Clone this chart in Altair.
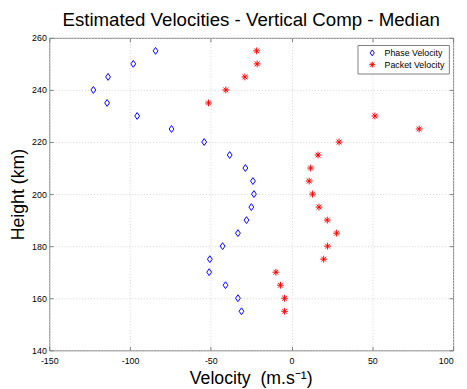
import altair as alt
import pandas as pd

heights = [255, 250, 245, 240, 235, 230, 225, 220, 215, 210, 205,
           200, 195, 190, 185, 180, 175, 170, 165, 160, 155]
phase_velocity = [-84.2, -98.0, -113.6, -122.7, -114.2, -95.6, -74.3, -54.1, -38.3, -28.6, -23.9,
                  -23.3, -24.9, -27.9, -33.2, -42.7, -50.6, -51.0, -40.9, -33.2, -31.0]
packet_velocity = [-21.6, -21.3, -28.9, -40.7, -51.4, 51.6, 79.0, 29.4, 16.4, 11.8, 10.9,
                   13.0, 17.0, 22.1, 27.9, 22.3, 19.9, -9.7, -6.9, -4.3, -4.3]
series_names = ["Phase Velocity", "Packet Velocity"]
x_ticks = [-150, -100, -50, 0, 50, 100]
y_ticks = [140, 160, 180, 200, 220, 240, 260]

rows = []
for h, p in zip(heights, phase_velocity):
    rows.append({"height": h, "velocity": p, "series": series_names[0]})
for h, p in zip(heights, packet_velocity):
    rows.append({"height": h, "velocity": p, "series": series_names[1]})
df = pd.DataFrame(rows)

DIAMOND = "M0,-1L0.7,0L0,1L-0.7,0Z"
ASTER = "M-1,0L1,0M0,-1L0,1M-0.7,-0.7L0.7,0.7M-0.7,0.7L0.7,-0.7"
AXC = "#808080"

xscale = alt.Scale(domain=[-150, 100], nice=False, zero=False)
yscale = alt.Scale(domain=[140, 260], nice=False, zero=False)

last_x_label = {"condition": {"test": "datum.value >= 100", "value": "right"}, "value": "center"}

points = alt.Chart(df).mark_point(filled=False, size=49, strokeWidth=1, opacity=1).encode(
    x=alt.X("velocity:Q", scale=xscale,
            axis=alt.Axis(orient="bottom", values=x_ticks, domain=False, ticks=False, tickSize=0,
                          labelPadding=6, labelFontSize=9, labelColor="#000000",
                          labelExpr="toString(datum.value)", labelFlush=False, labelOverlap=False,
                          labelAlign=last_x_label,
                          grid=True, gridColor="#d4d4d4", gridDash=[1, 2],
                          title="Velocity\u00a0 (m.s\u207b\u00b9)", titleFontSize=18, titleFontWeight="normal",
                          titleX=205, titleY=34, titleAlign="center", titleBaseline="alphabetic",
                          titleColor="#000000")),
    y=alt.Y("height:Q", scale=yscale,
            axis=alt.Axis(orient="left", values=y_ticks, domain=False, ticks=False, tickSize=0,
                          labelPadding=3, labelFontSize=9, labelColor="#000000",
                          labelFlush=False, labelOverlap=False,
                          grid=True, gridColor="#d4d4d4", gridDash=[1, 2],
                          title="Height (km)", titleFontSize=18, titleFontWeight="normal",
                          titleX=-31, titleY=159, titleAngle=270, titleAlign="center",
                          titleBaseline="middle", titleColor="#000000")),
    color=alt.Color("series:N", scale=alt.Scale(domain=series_names, range=["#0000ff", "#ff0000"]),
                    legend=alt.Legend(title=None, orient="none", legendX=313.7, legendY=7.3,
                                      padding=3.5, strokeColor=AXC, fillColor="#ffffff",
                                      labelFontSize=9, labelColor="#000000", symbolSize=36,
                                      symbolStrokeWidth=1, symbolOffset=7, labelOffset=8,
                                      rowPadding=2, clipHeight=9)),
    shape=alt.Shape("series:N", scale=alt.Scale(domain=series_names, range=[DIAMOND, ASTER]),
                    legend=None),
)

def tick_layer(xo, yo):
    return alt.Chart(df).mark_point(opacity=0).encode(
        x=alt.X("velocity:Q", scale=xscale,
                axis=alt.Axis(orient=xo, values=x_ticks, labels=False, grid=False, domain=False,
                              ticks=True, tickSize=4, tickColor=AXC, offset=-4, title=None,
                              minExtent=0, maxExtent=0)),
        y=alt.Y("height:Q", scale=yscale,
                axis=alt.Axis(orient=yo, values=y_ticks, labels=False, grid=False, domain=False,
                              ticks=True, tickSize=4, tickColor=AXC, offset=-4, title=None,
                              minExtent=0, maxExtent=0)),
    )

chart = alt.layer(points, tick_layer("bottom", "left"), tick_layer("top", "right")).resolve_axis(
    x="independent", y="independent"
).properties(
    width=411, height=318,
    title=alt.TitleParams("Estimated Velocities - Vertical Comp - Median", fontSize=19,
                          fontWeight="normal", anchor="middle", frame="group", offset=4,
                          color="#000000"),
    autosize=alt.AutoSizeParams(type="none"),
    padding={"left": 42, "top": 27, "right": 6, "bottom": 36},
).configure(font="Liberation Sans").configure_view(stroke=AXC, strokeWidth=1)

chart.save("out.html", embed_options={"renderer": "svg", "actions": False})
